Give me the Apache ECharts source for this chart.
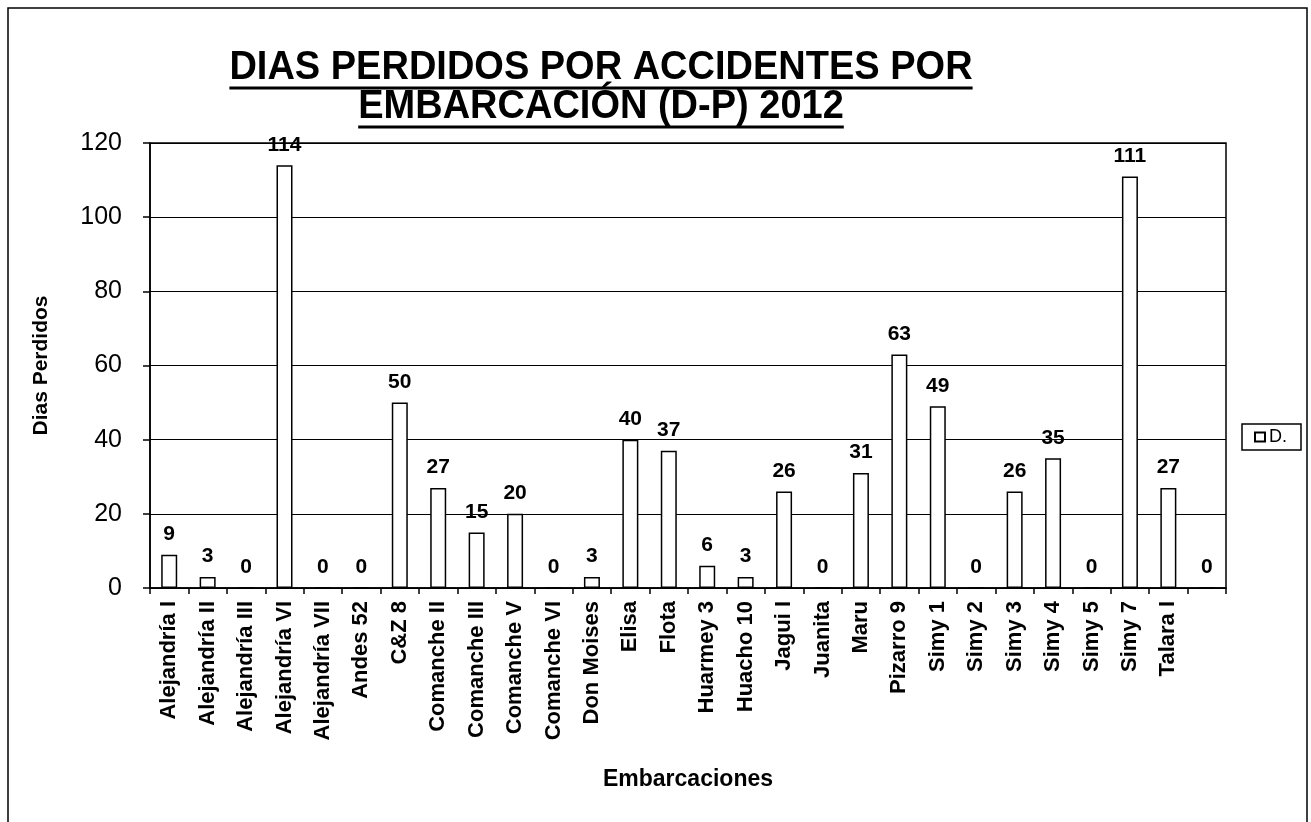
<!DOCTYPE html>
<html>
<head>
<meta charset="utf-8">
<script src="https://cdn.jsdelivr.net/npm/echarts@6/dist/echarts.min.js"></script>
<style>
html,body{margin:0;padding:0;background:#fff;}
#chart{width:1311px;height:822px;}
</style>
</head>
<body>
<div id="chart"></div>
<script>
const titleLines = ['DIAS PERDIDOS POR ACCIDENTES POR', 'EMBARCACIÓN (D-P) 2012'];
const categories = ['Alejandría I','Alejandría II','Alejandría III','Alejandría VI','Alejandría VII','Andes 52','C&Z 8','Comanche II','Comanche III','Comanche V','Comanche VI','Don Moises','Elisa','Flota','Huarmey 3','Huacho 10','Jagui I','Juanita','Maru','Pizarro 9','Simy 1','Simy 2','Simy 3','Simy 4','Simy 5','Simy 7','Talara I',''];
const diasPerdidos = [9,3,0,114,0,0,50,27,15,20,0,3,40,37,6,3,26,0,31,63,49,0,26,35,0,111,27,0];
const yTicks = [0,20,40,60,80,100,120];
const seriesName = 'D.';
const xAxisName = 'Embarcaciones';
const yAxisName = 'Dias Perdidos';

const FONT = '"Liberation Sans", Arial, sans-serif';
const chart = echarts.init(document.getElementById('chart'), null, {renderer: 'canvas'});

const titleFontSize = 38;
const ctx = document.createElement('canvas').getContext('2d');
ctx.font = 'bold ' + titleFontSize + 'px ' + FONT;
const titleCx = 601;
const titleCapCenters = [68, 107];
const titleUnderlines = [88, 127];
const titleGraphics = [];
titleLines.forEach((t, i) => {
  const w = ctx.measureText(t).width;
  titleGraphics.push({
    type: 'text', x: titleCx, y: titleCapCenters[i], scaleY: 1.08,
    style: {text: t, font: 'bold ' + titleFontSize + 'px ' + FONT, fill: '#000',
            textAlign: 'center', textVerticalAlign: 'middle'}
  });
  titleGraphics.push({
    type: 'line',
    shape: {x1: titleCx - w / 2, y1: titleUnderlines[i], x2: titleCx + w / 2, y2: titleUnderlines[i]},
    style: {stroke: '#000', lineWidth: 3}
  });
});

const option = {
  backgroundColor: '#fff',
  animation: false,
  graphic: [
    {type: 'rect', shape: {x: 8, y: 8, width: 1299, height: 830}, style: {fill: 'none', stroke: '#000', lineWidth: 1.5}, z: 0}
  ].concat(titleGraphics),
  legend: {
    left: 1242, top: 424,
    orient: 'vertical',
    borderColor: '#000', borderWidth: 1.5,
    padding: [4, 14, 4, 12],
    itemWidth: 10, itemHeight: 9, itemGap: 4,
    icon: 'rect',
    textStyle: {fontFamily: FONT, fontSize: 18, color: '#000', padding: [0, 0, 0, -1]},
    data: [seriesName]
  },
  grid: {
    left: 150, right: 85, top: 143, bottom: 234,
    show: true, borderColor: '#000', borderWidth: 1.5, backgroundColor: '#fff'
  },
  xAxis: {
    type: 'category',
    data: categories,
    name: xAxisName,
    nameLocation: 'middle',
    nameGap: 180,
    nameTextStyle: {fontFamily: FONT, fontWeight: 'bold', fontSize: 23, color: '#000'},
    axisLine: {lineStyle: {color: '#000', width: 1.5}},
    axisTick: {show: true, length: 6, lineStyle: {color: '#000', width: 1.5}},
    axisLabel: {rotate: 90, interval: 0, margin: 13, fontFamily: FONT, fontWeight: 'bold', fontSize: 22, color: '#000'}
  },
  yAxis: {
    type: 'value',
    min: 0, max: 120, interval: 20,
    name: yAxisName,
    nameLocation: 'middle',
    nameGap: 98,
    nameRotate: 90,
    nameTextStyle: {fontFamily: FONT, fontWeight: 'bold', fontSize: 21, color: '#000'},
    axisLine: {show: true, lineStyle: {color: '#000', width: 1.5}},
    axisTick: {show: true, length: 7, lineStyle: {color: '#000', width: 1.5}},
    axisLabel: {margin: 28, fontFamily: FONT, fontSize: 25, color: '#000',
      formatter: v => yTicks.indexOf(v) >= 0 ? String(v) : ''},
    splitLine: {show: true, lineStyle: {color: '#000', width: 1.2}}
  },
  series: [{
    name: seriesName,
    type: 'bar',
    data: diasPerdidos,
    barWidth: 16,
    itemStyle: {color: '#fff', borderColor: '#000', borderWidth: 1.5},
    label: {show: true, position: 'top', distance: 10, fontFamily: FONT, fontWeight: 'bold', fontSize: 21, color: '#000'}
  }]
};
chart.setOption(option);
</script>
</body>
</html>
